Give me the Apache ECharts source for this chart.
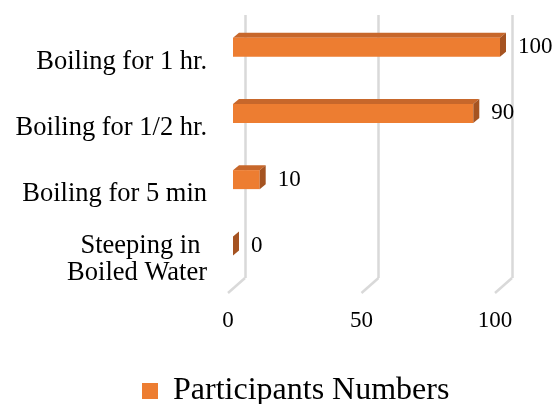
<!DOCTYPE html>
<html>
<head>
<meta charset="utf-8">
<script src="https://cdn.jsdelivr.net/npm/echarts@6/dist/echarts.min.js"></script>
<style>
  html, body { margin: 0; padding: 0; background: #fff; }
  #chart { width: 556px; height: 404px; }
</style>
</head>
<body>
<div id="chart"></div>
<script>
// Categories (top to bottom) and their participant counts
const categories = ['Boiling for 1 hr.', 'Boiling for 1/2 hr.', 'Boiling for 5 min', 'Steeping in \nBoiled Water'];
const participants = [100, 90, 10, 0];
const seriesName = 'Participants Numbers';
const tickValues = [0, 50, 100];

const FONT = '"Liberation Serif", "Times New Roman", serif';
const FRONT = '#ED7D31';
const TOP = '#C7672B';
const SIDE = '#A55321';
const GRID_LINE = '#d9d9d9';

// 3D depth of each bar (pixels)
const DEPTH_X = 6, DEPTH_Y = 5, BAR_H = 19;

const chart = echarts.init(document.getElementById('chart'), null, { renderer: 'canvas' });

chart.setOption({
  animation: false,
  backgroundColor: '#fff',
  color: [FRONT],
  legend: {
    data: [seriesName],
    left: 142,
    top: 375,
    padding: 0,
    itemWidth: 16,
    itemHeight: 16,
    icon: 'rect',
    textStyle: { fontFamily: FONT, fontSize: 32, color: '#000', lineHeight: 32, padding: [0, 0, 0, 10] }
  },
  grid: [
    // bars (front face plane)
    { left: 233, top: 14, width: 267, height: 265 },
    // back wall with the vertical gridlines
    { left: 245, top: 15, width: 267, height: 263 },
    // front floor edge carrying the axis labels
    { left: 228, top: 29, width: 267, height: 264 }
  ],
  xAxis: [
    { gridIndex: 0, type: 'value', min: 0, max: 100, show: false },
    {
      gridIndex: 1, type: 'value', min: 0, max: 100, interval: 50,
      axisLine: { show: false }, axisTick: { show: false }, axisLabel: { show: false },
      splitLine: { show: true, lineStyle: { color: GRID_LINE, width: 2.5 } }
    },
    {
      gridIndex: 2, type: 'value', min: 0, max: 100, interval: 50,
      axisLine: { show: false }, axisTick: { show: false }, splitLine: { show: false },
      axisLabel: { margin: 16, fontFamily: FONT, fontSize: 23, color: '#000' }
    }
  ],
  yAxis: [
    { gridIndex: 0, type: 'category', data: categories, inverse: true, show: false },
    { gridIndex: 1, type: 'value', min: 0, max: 1, show: false },
    {
      gridIndex: 2, type: 'category', data: categories, inverse: true,
      axisLine: { show: false }, axisTick: { show: false }, splitLine: { show: false },
      axisLabel: { margin: 21, fontFamily: FONT, fontSize: 26.5, lineHeight: 27, color: '#000', align: 'right' }
    }
  ],
  series: [
    {
      // slanted floor lines at the foot of each gridline
      type: 'custom',
      xAxisIndex: 1, yAxisIndex: 1,
      silent: true,
      data: tickValues.map(v => [v, 0]),
      renderItem: function (params, api) {
        const p = api.coord([api.value(0), 0]);
        return {
          type: 'line',
          shape: { x1: p[0], y1: p[1], x2: p[0] - 17, y2: p[1] + 15 },
          style: { stroke: GRID_LINE, lineWidth: 2.5 }
        };
      },
      z: 1
    },
    {
      name: seriesName,
      type: 'custom',
      xAxisIndex: 0, yAxisIndex: 0,
      itemStyle: { color: FRONT },
      data: participants.map((v, i) => [v, i]),
      encode: { x: 0, y: 1 },
      renderItem: function (params, api) {
        const v = api.value(0);
        const idx = api.value(1);
        const end = api.coord([v, idx]);
        const start = api.coord([0, idx]);
        const x0 = start[0], x1 = end[0], yc = end[1];
        const yt = yc - BAR_H / 2, yb = yc + BAR_H / 2;
        return {
          type: 'group',
          children: [
            {
              type: 'polygon',
              shape: { points: [[x0, yt], [x0 + DEPTH_X, yt - DEPTH_Y], [x1 + DEPTH_X, yt - DEPTH_Y], [x1, yt]] },
              style: { fill: TOP }
            },
            {
              type: 'rect',
              shape: { x: x0, y: yt, width: x1 - x0, height: BAR_H },
              style: { fill: FRONT }
            },
            {
              type: 'polygon',
              shape: { points: [[x1, yt], [x1 + DEPTH_X, yt - DEPTH_Y], [x1 + DEPTH_X, yb - DEPTH_Y], [x1, yb]] },
              style: { fill: SIDE }
            },
            {
              type: 'text',
              style: {
                text: String(v),
                x: x1 + DEPTH_X + 12,
                y: yc,
                verticalAlign: 'middle',
                align: 'left',
                fontFamily: FONT,
                fontSize: 23,
                fill: '#000'
              }
            }
          ]
        };
      },
      z: 3
    }
  ]
});
</script>
</body>
</html>
